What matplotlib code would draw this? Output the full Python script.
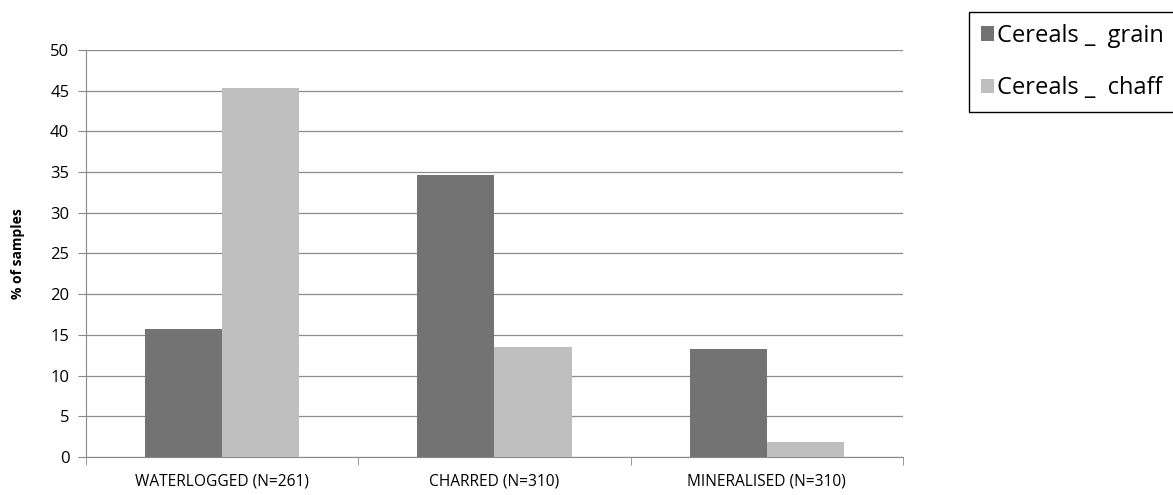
import numpy as np
from matplotlib import pyplot as plt

categories = ['WATERLOGGED (N=261)', 'CHARRED (N=310)', 'MINERALISED (N=310)']
grain = [15.7, 34.6, 13.3]
chaff = [45.3, 13.5, 1.9]
series_names = ['Cereals _  grain', 'Cereals _  chaff']

plt.rcParams['font.family'] = ['Open Sans', 'DejaVu Sans']

fig = plt.figure(figsize=(11.73, 4.95), dpi=100)
ax = fig.add_axes([0.0733, 0.0768, 0.6965, 0.8222])

x = np.arange(len(categories))
w = 0.283
ax.bar(x - w / 2, grain, w, color='#737373', label=series_names[0], zorder=3)
ax.bar(x + w / 2, chaff, w, color='#bfbfbf', label=series_names[1], zorder=3)

ax.set_xlim(-0.5, 2.5)
ax.set_ylim(0, 50)
ax.set_yticks(range(0, 51, 5))
ax.set_xticks(x)
ax.set_xticklabels(categories, fontsize=11.2)
ax.set_xticks([-0.5, 0.5, 1.5, 2.5], minor=True)
ax.tick_params(axis='x', which='major', length=0, pad=12)
ax.tick_params(axis='x', which='minor', length=6, color='#888888')
ax.tick_params(axis='y', length=6, color='#888888', labelsize=12, pad=6)
ax.grid(axis='y', color='#8c8c8c', linewidth=0.9, zorder=0)

for s in ['top', 'right']:
    ax.spines[s].set_visible(False)
for s in ['left', 'bottom']:
    ax.spines[s].set_color('#888888')

ax.set_ylabel('% of samples', fontweight='bold', fontsize=10, labelpad=18)

fig.legend(loc='upper left', bbox_to_anchor=(969 / 1173, 1 - 12 / 495),
           fontsize=17, frameon=True, fancybox=False, edgecolor='black',
           handlelength=0.55, handleheight=0.55, handletextpad=0.15,
           labelspacing=1.2, borderpad=0.5, borderaxespad=0, framealpha=1)

fig.savefig('out.png', dpi=100)
